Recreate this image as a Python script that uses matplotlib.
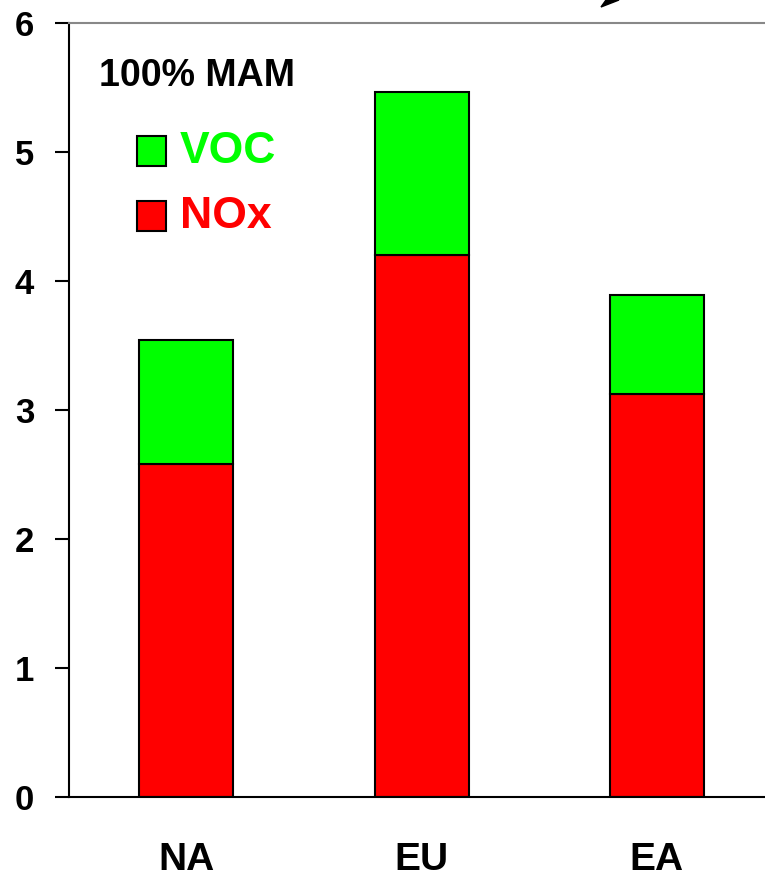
import matplotlib.pyplot as plt
from matplotlib.patches import Polygon

plt.rcParams['font.family'] = ['Liberation Sans', 'DejaVu Sans']
plt.rcParams['font.weight'] = 'bold'

regions = ['NA', 'EU', 'EA']
nox     = [2.58, 4.20, 3.12]
voc     = [0.96, 1.26, 0.77]
yticks  = [0, 1, 2, 3, 4, 5, 6]
# ----------------------------
fig = plt.figure(figsize=(7.65, 8.74), dpi=100)
ax  = fig.add_axes([0.090, 0.088, 0.910, 0.886])

pos = range(len(regions))
ax.bar(pos, nox, width=0.4, color='#ff0000', edgecolor='black', linewidth=1.5)
ax.bar(pos, voc, width=0.4, bottom=nox, color='#00ff00', edgecolor='black', linewidth=1.5)

ax.set_xlim(-0.5, 2.46)
ax.set_ylim(0, 6)
ax.set_yticks(yticks)
ax.set_xticks(list(pos))
ax.set_xticklabels(regions)
ax.tick_params(axis='x', length=0, pad=32, labelsize=28)
ax.tick_params(axis='y', length=10, width=1.5, pad=15, labelsize=25, direction='out')

for side in ['left', 'bottom']:
    ax.spines[side].set_linewidth(1.5)
ax.spines['top'].set_color('#888888')
ax.spines['top'].set_linewidth(1.5)
ax.spines['right'].set_visible(False)

# legend drawn by hand, like the original
ax.text(-0.372, 5.585, '100% MAM', fontsize=27, fontweight='bold', va='center')
ax.add_patch(plt.Rectangle((-0.209, 4.89), 0.123, 0.233, facecolor='#00ff00', edgecolor='black', linewidth=1.5, clip_on=False))
ax.add_patch(plt.Rectangle((-0.209, 4.385), 0.123, 0.233, facecolor='#ff0000', edgecolor='black', linewidth=1.5, clip_on=False))
ax.text(-0.028, 5.005, 'VOC', fontsize=32, fontweight='bold', color='#00ff00', va='center')
ax.text(-0.028, 4.495, 'NOx', fontsize=32, fontweight='bold', color='#ff0000', va='center')

# stray arrow head at the top edge
W, H = 765, 874
tri = [(601 / W, 1 - 7 / H), (606 / W, 1.0), (619 / W, 1.0)]
fig.patches.append(Polygon(tri, closed=True, color='black', transform=fig.transFigure))

plt.savefig('out.png', dpi=100)
plt.close()
